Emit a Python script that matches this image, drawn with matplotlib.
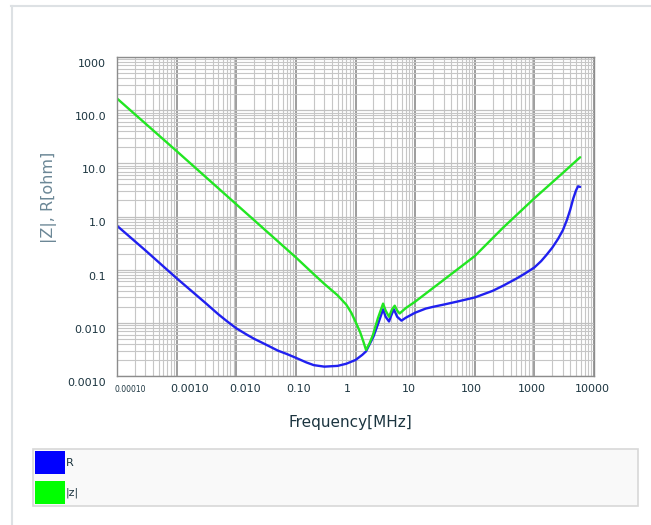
import matplotlib
matplotlib.use("Agg")
import matplotlib.pyplot as plt
from matplotlib.patches import Rectangle
from matplotlib.lines import Line2D
from matplotlib.ticker import LogLocator, NullFormatter

# czestotliwosc [MHz] i wartosci [ohm]
freq_r = [1e-4, 3e-4, 1e-3, 3e-3, 5e-3, 7e-3, 0.01, 0.015, 0.02, 0.03, 0.05, 0.07,
          0.1, 0.15, 0.2, 0.3, 0.5, 0.7, 1.0, 1.3, 1.5, 2.0, 2.5, 2.9, 3.2, 3.65,
          4.0, 4.4, 5.0, 5.9, 7.0, 10, 15, 20, 30, 50, 100, 200, 300, 500, 700,
          1000, 1300, 1600, 2000, 2500, 3000, 3500, 4000, 4500, 5000, 5400, 5850]
r_ohm = [0.67, 0.23, 0.069, 0.024, 0.0145, 0.0107, 0.0079, 0.0060, 0.0050, 0.0040,
         0.0030, 0.0026, 0.0022, 0.0018, 0.0016, 0.0015, 0.00155, 0.0017, 0.0020,
         0.0025, 0.0029, 0.0055, 0.011, 0.018, 0.013, 0.0106, 0.014, 0.018, 0.013,
         0.011, 0.0125, 0.0155, 0.0185, 0.020, 0.022, 0.025, 0.030, 0.040, 0.050,
         0.068, 0.085, 0.11, 0.145, 0.19, 0.26, 0.38, 0.55, 0.85, 1.35, 2.2, 3.1,
         3.7, 3.6]

freq_z = [1e-4, 1e-3, 0.01, 0.1, 0.2, 0.3, 0.5, 0.7, 0.85, 1.0, 1.2, 1.35, 1.5, 1.7,
          1.96, 2.38, 2.9, 3.2, 3.65, 4.1, 4.55, 5.0, 5.5, 7.0, 10, 30, 100, 300,
          1000, 3000, 5850]
z_ohm = [166, 17, 1.7, 0.17, 0.082, 0.054, 0.033, 0.022, 0.0155, 0.0105, 0.0066,
         0.0045, 0.0031, 0.0040, 0.0059, 0.0123, 0.023, 0.017, 0.013, 0.018, 0.021,
         0.017, 0.015, 0.019, 0.025, 0.064, 0.18, 0.62, 2.2, 6.6, 13.0]

x_ticks = [1e-4, 1e-3, 1e-2, 1e-1, 1, 10, 100, 1000, 10000]
x_tick_labels = ["0.00010", "0.0010", "0.010", "0.10", "1", "10", "100", "1000", "10000"]
y_ticks = [1e-3, 1e-2, 1e-1, 1, 10, 100, 1000]
y_tick_labels = ["0.0010", "0.010", "0.1", "1.0", "10.0", "100.0", "1000"]

series_names = ["R", "|z|"]

W, H = 651, 525
TXT = "#1c3540"


def fx(px):
    return px / W


def fy(py):
    return 1 - py / H


fig = plt.figure(figsize=(W / 100, H / 100), dpi=100)
fig.patch.set_facecolor("white")

# ramka karty
fig.add_artist(Line2D([fx(11), fx(651)], [fy(6), fy(6)], color="#dde1e4", lw=1.5))
fig.add_artist(Line2D([fx(12), fx(12)], [fy(6), fy(525)], color="#dde1e4", lw=1.5))

ax = fig.add_axes([fx(117), fy(376), (594 - 117) / W, (376 - 57) / H])
ax.set_xscale("log")
ax.set_yscale("log")
ax.set_xlim(1e-4, 1e4)
ax.set_ylim(1e-3, 1e3)

ax.xaxis.set_minor_locator(LogLocator(base=10, subs=range(2, 10), numticks=30))
ax.yaxis.set_minor_locator(LogLocator(base=10, subs=range(2, 10), numticks=30))
ax.set_xticks(x_ticks)
ax.set_yticks(y_ticks)
ax.xaxis.set_major_formatter(NullFormatter())
ax.yaxis.set_major_formatter(NullFormatter())
ax.xaxis.set_minor_formatter(NullFormatter())
ax.yaxis.set_minor_formatter(NullFormatter())
ax.tick_params(which="both", length=0)

ax.set_axisbelow(True)
ax.grid(which="minor", color="#c6c6c6", lw=0.8)
ax.yaxis.grid(which="major", color="#c0c0c0", lw=0.9)
ax.xaxis.grid(which="major", color="#8c8c8c", lw=1.2)
for sp in ax.spines.values():
    sp.set_color("#8c8c8c")
    sp.set_linewidth(1.0)

ax.plot(freq_r, r_ohm, color="#2020f0", lw=1.7, solid_capstyle="round",
        solid_joinstyle="round")
ax.plot(freq_z, z_ohm, color="#22e622", lw=1.7, solid_capstyle="round",
        solid_joinstyle="round")

# podpisy osi z przesunieciem jak w oryginale
x_label_dx = [13, 13, 9, 2.5, -8, -6.5, -3, -3, -1.5]
for t, lab, dx in zip(x_ticks, x_tick_labels, x_label_dx):
    size = 5.5 if lab == "0.00010" else 8
    ax.annotate(lab, xy=(t, 0), xycoords=("data", "axes fraction"),
                xytext=(dx, -13), textcoords="offset pixels",
                ha="center", va="center", fontsize=size, color=TXT,
                annotation_clip=False)

for t, lab in zip(y_ticks, y_tick_labels):
    ax.annotate(lab, xy=(0, t), xycoords=("axes fraction", "data"),
                xytext=(-11, -7), textcoords="offset pixels",
                ha="right", va="center", fontsize=8, color=TXT,
                annotation_clip=False)

fig.text(fx(350.5), fy(422), "Frequency[MHz]", ha="center", va="center",
         fontsize=11, color=TXT)
fig.text(fx(49), fy(197.5), "|Z|, R[ohm]", ha="center", va="center",
         rotation=90, fontsize=11.5, color="#6b8796")

# legenda
fig.add_artist(Rectangle((fx(33), fy(506)), (638 - 33) / W, (506 - 449) / H,
                         transform=fig.transFigure, facecolor="#f9f9f9",
                         edgecolor="#d8d8d8", lw=1.2))
swatch_colors = ["#0000ff", "#00ff00"]
swatch_top = [451, 481]
for name, col, top in zip(series_names, swatch_colors, swatch_top):
    fig.add_artist(Rectangle((fx(35), fy(top + 23)), 30 / W, 23 / H,
                             transform=fig.transFigure, facecolor=col,
                             edgecolor="none"))
    fig.text(fx(66), fy(top + 12), name, ha="left", va="center",
             fontsize=8, color=TXT)

fig.savefig("out.png", dpi=100)
